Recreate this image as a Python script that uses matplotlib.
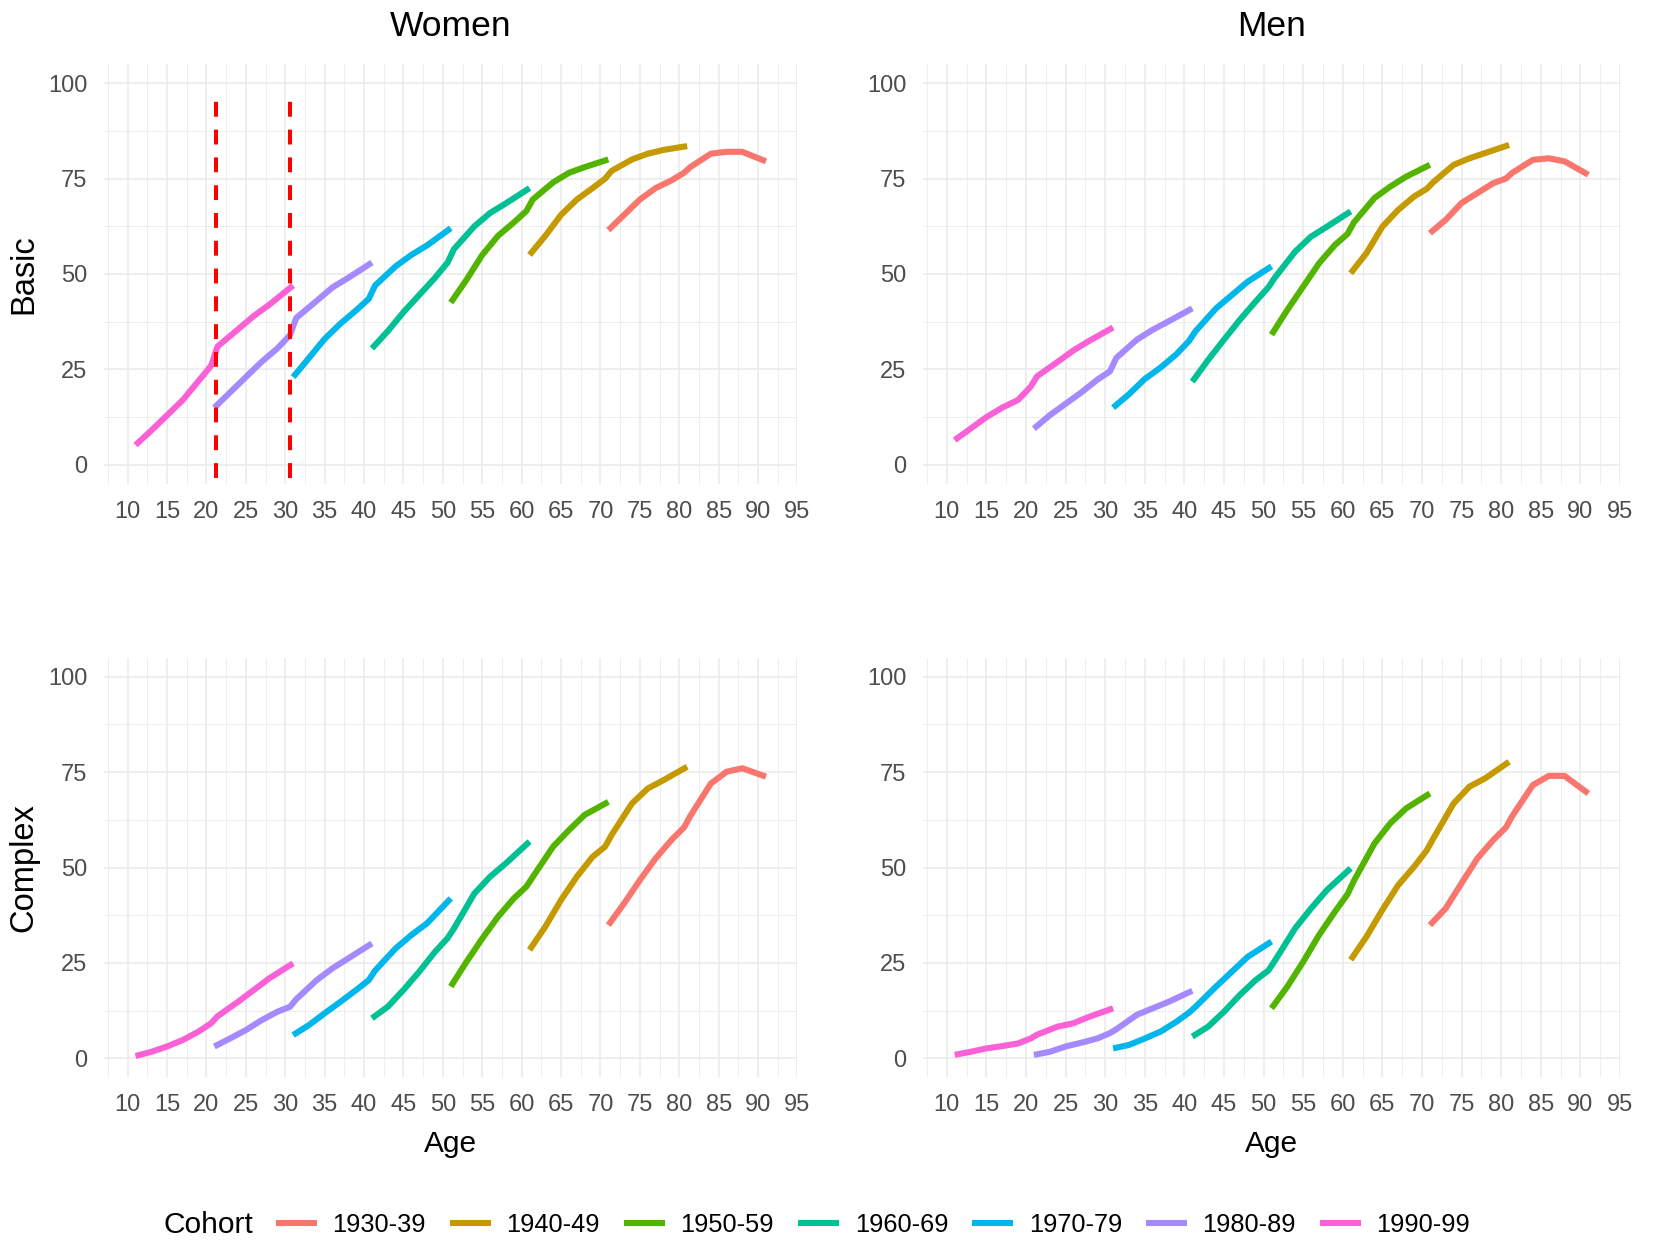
import numpy as np
import matplotlib
matplotlib.use('Agg')
import matplotlib.pyplot as plt
from matplotlib.lines import Line2D

plt.rcParams.update({'font.family': ['Liberation Sans', 'DejaVu Sans']})

W, H = 1656, 1241

cohorts = ['1930-39', '1940-49', '1950-59', '1960-69', '1970-79', '1980-89', '1990-99']
colors = ['#F8766D', '#C49A00', '#53B400', '#00C094', '#00B6EB', '#A58AFF', '#FB61D7']
start_ages = [71, 61, 51, 41, 31, 21, 11]
age_offsets = [0, 2, 4, 6, 8, 9.6, 10.4, 13, 15, 17, 20]

# share of respondents, one row per cohort (1930-39 first)
women_basic = [
    [61.5, 65.5, 69.5, 72.5, 74.5, 76.5, 78, 81.5, 82, 82, 79.5],
    [55, 60, 65.5, 69.5, 72.5, 75, 77, 80, 81.5, 82.5, 83.5],
    [42.5, 48.5, 55, 60, 63.5, 66.5, 69.5, 74, 76.5, 78, 80],
    [30.5, 35, 40, 44.5, 49, 53, 56.5, 62.5, 66, 68.5, 72.5],
    [23, 28, 33, 37, 40.5, 43.5, 47, 52, 55, 57.5, 62],
    [15, 19, 23, 27, 30.5, 34, 38.5, 43, 46.5, 49, 53],
    [5.2, 9, 13, 17, 22, 26, 31, 35.5, 39, 42, 47],
]
men_basic = [
    [60.7, 64.2, 68.6, 71.2, 73.8, 75, 76.5, 79.9, 80.3, 79.5, 76],
    [50.2, 55.5, 62.4, 66.8, 70.3, 72.3, 74, 78.6, 80.3, 81.7, 83.8],
    [34.1, 40.6, 46.7, 52.8, 57.6, 60.5, 63.5, 69.9, 72.9, 75.5, 78.6],
    [21.8, 27.5, 32.8, 38, 42.8, 46.5, 49, 55.9, 59.8, 62.4, 66.4],
    [15, 18.5, 22.5, 25.5, 29, 32.5, 35, 41, 44.5, 48, 52],
    [9.5, 13, 16, 19, 22.3, 24.5, 28, 32.8, 35.4, 37.6, 41],
    [6.5, 9.5, 12.5, 15, 17, 20.5, 23.2, 27, 30, 32.5, 36],
]
women_complex = [
    [34.9, 40.6, 46.7, 52.4, 57.2, 60.5, 63.5, 72, 75.1, 76, 73.8],
    [28.4, 34.5, 41.5, 47.6, 52.8, 55.5, 58.5, 66.8, 70.7, 72.9, 76.4],
    [18.8, 25.3, 31.4, 37.1, 41.9, 45, 47.5, 55.5, 59.8, 63.8, 67.2],
    [10.5, 13.5, 17.9, 22.7, 27.9, 31.5, 34, 43.2, 47.6, 51.1, 56.8],
    [6.1, 8.7, 11.8, 14.8, 17.9, 20.5, 23, 28.8, 32.3, 35.4, 41.9],
    [3.1, 5.2, 7.4, 10, 12.2, 13.5, 15.5, 20.5, 23.6, 26.2, 30.1],
    [0.6, 1.7, 3.1, 4.8, 7, 9.2, 11, 14.8, 17.9, 21, 24.9],
]
men_complex = [
    [34.9, 39.3, 45.9, 52.4, 57.2, 60.5, 63.5, 71.6, 74, 74, 69.4],
    [25.8, 31.9, 38.9, 45.4, 50.2, 54.5, 57.5, 66.8, 71.2, 73.4, 77.7],
    [13.1, 18.8, 25.3, 32.3, 38.4, 43, 46.5, 56.3, 61.6, 65.5, 69.4],
    [5.7, 8.3, 12.2, 16.6, 20.5, 23, 25.5, 34.1, 39.3, 44.1, 49.8],
    [2.6, 3.5, 5.2, 7, 9.6, 12, 13.5, 18.8, 22.7, 26.6, 30.6],
    [0.9, 1.7, 3.1, 4.1, 5.2, 6.6, 7.6, 11.4, 13.1, 14.8, 17.7],
    [0.9, 1.7, 2.6, 3.2, 3.9, 5.2, 6.2, 8.3, 9.2, 10.9, 13.1],
]
marker_ages = [21.2, 30.6]


def px_axes(fig, left, top, right, bottom):
    return fig.add_axes([left / W, 1 - bottom / H, (right - left) / W, (bottom - top) / H])


def style_axes(ax):
    ax.set_xlim(7, 95)
    ax.set_ylim(-5, 105)
    ax.set_xticks(np.arange(10, 96, 5))
    ax.set_xticks(np.arange(7.5, 96, 5), minor=True)
    ax.set_yticks([0, 25, 50, 75, 100])
    ax.set_yticks([12.5, 37.5, 62.5, 87.5], minor=True)
    ax.grid(which='major', color='#EBEBEB', lw=1.2)
    ax.grid(which='minor', color='#EBEBEB', lw=0.6)
    ax.set_axisbelow(True)
    for s in ax.spines.values():
        s.set_visible(False)
    ax.tick_params(which='both', length=0)
    ax.tick_params(axis='x', labelsize=17, colors='#4D4D4D', pad=12)
    ax.tick_params(axis='y', labelsize=17, colors='#4D4D4D', pad=12)


def draw_panel(ax, values):
    for start, vals, c in zip(start_ages, values, colors):
        ages = [start + o for o in age_offsets]
        ax.plot(ages, vals, color=c, lw=4.4, solid_capstyle='butt', solid_joinstyle='round')


fig = plt.figure(figsize=(W / 100, H / 100), dpi=100)

cols = [(104, 797.5), (923, 1620)]
rows = [(64, 484), (657.6, 1077.4)]
panels = [[women_basic, men_basic], [women_complex, men_complex]]

for r, (top, bottom) in enumerate(rows):
    for c, (left, right) in enumerate(cols):
        ax = px_axes(fig, left, top, right, bottom)
        style_axes(ax)
        draw_panel(ax, panels[r][c])
        if r == 0 and c == 0:
            for a in marker_ages:
                ax.plot([a, a], [-3.4, 95.5], color='#FF0000', lw=2.9, dashes=(3.7, 3.2))

# column titles, row labels and axis titles
fig.text(451 / W, 1 - 26 / H, 'Women', ha='center', va='center', fontsize=25.5)
fig.text(1271.5 / W, 1 - 26 / H, 'Men', ha='center', va='center', fontsize=25.5)
fig.text(24 / W, 1 - 274 / H, 'Basic', ha='center', va='center', rotation=90, fontsize=23.5)
fig.text(24 / W, 1 - 867.5 / H, 'Complex', ha='center', va='center', rotation=90, fontsize=23.5)
fig.text(451 / W, 1 - 1144 / H, 'Age', ha='center', va='center', fontsize=21.5)
fig.text(1271.5 / W, 1 - 1144 / H, 'Age', ha='center', va='center', fontsize=21.5)

# legend along the bottom
fig.text(164 / W, 1 - 1225 / H, 'Cohort', ha='left', va='center', fontsize=21.5)
handles = [Line2D([], [], color=c, lw=4.4, solid_capstyle='butt') for c in colors]
fig.legend(handles, cohorts, loc='center left', bbox_to_anchor=(276 / W, 1 - 1225 / H),
           ncol=7, frameon=False, fontsize=18.3, handlelength=1.6, handletextpad=0.62,
           columnspacing=0.95, borderpad=0, borderaxespad=0)

fig.savefig('out.png', dpi=100, facecolor='white')
